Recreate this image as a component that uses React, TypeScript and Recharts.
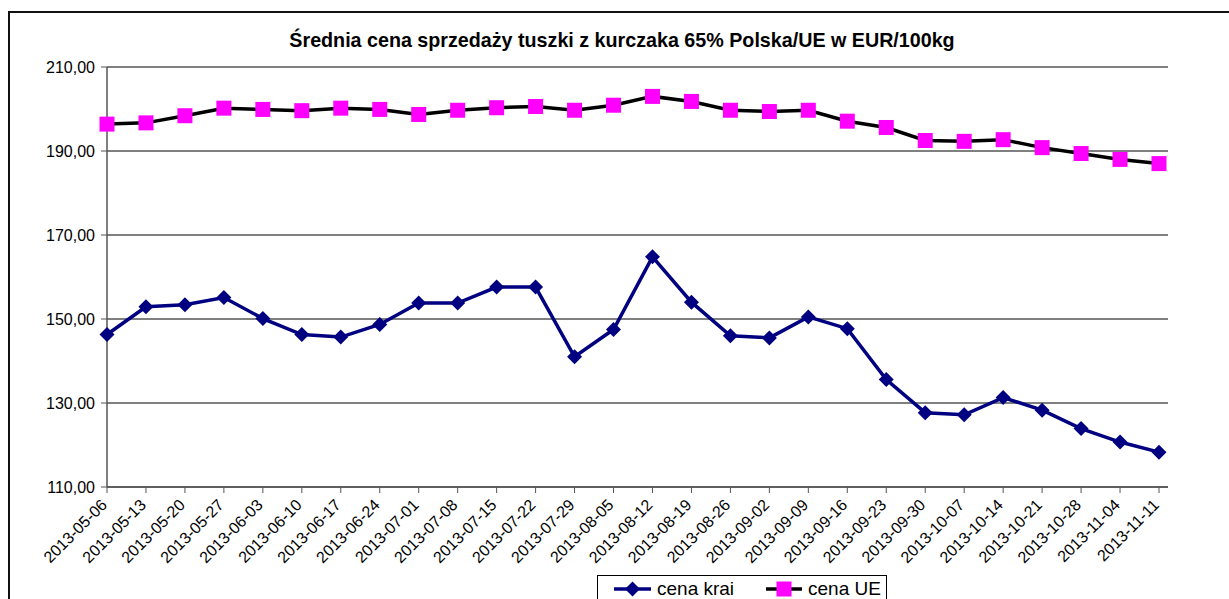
import React from "react";
import { LineChart, Line, XAxis, YAxis, CartesianGrid } from "recharts";

const dates = [
  "2013-05-06", "2013-05-13", "2013-05-20", "2013-05-27", "2013-06-03",
  "2013-06-10", "2013-06-17", "2013-06-24", "2013-07-01", "2013-07-08",
  "2013-07-15", "2013-07-22", "2013-07-29", "2013-08-05", "2013-08-12",
  "2013-08-19", "2013-08-26", "2013-09-02", "2013-09-09", "2013-09-16",
  "2013-09-23", "2013-09-30", "2013-10-07", "2013-10-14", "2013-10-21",
  "2013-10-28", "2013-11-04", "2013-11-11"
];

const cenaKraj = [
  146.3, 152.9, 153.4, 155.1, 150.1, 146.3, 145.7, 148.7, 153.8, 153.8,
  157.6, 157.6, 141.0, 147.5, 164.8, 154.0, 146.0, 145.5, 150.5, 147.7,
  135.6, 127.7, 127.2, 131.3, 128.3, 123.9, 120.7, 118.3
];

const cenaUE = [
  196.4, 196.7, 198.4, 200.2, 199.9, 199.6, 200.2, 199.9, 198.7, 199.7,
  200.3, 200.6, 199.7, 200.9, 203.0, 201.8, 199.7, 199.4, 199.7, 197.1,
  195.6, 192.5, 192.3, 192.7, 190.8, 189.4, 188.0, 187.0
];

const yTicks = [110, 130, 150, 170, 190, 210];

const data = dates.map((d, i) => ({ date: d, kraj: cenaKraj[i], ue: cenaUE[i] }));

const font = "Arial, 'Liberation Sans', sans-serif";

const fmt = (v: number) => v.toFixed(2).replace(".", ",");

const Diamond = (props: any) => {
  const { cx, cy } = props;
  if (cx == null || cy == null) return null;
  const r = 7.5;
  return (
    <polygon
      points={`${cx},${cy - r} ${cx + r},${cy} ${cx},${cy + r} ${cx - r},${cy}`}
      fill="#000080"
    />
  );
};

const Square = (props: any) => {
  const { cx, cy } = props;
  if (cx == null || cy == null) return null;
  return <rect x={cx - 7.5} y={cy - 7.5} width={15} height={15} fill="#FF00FF" />;
};

const DateTick = (props: any) => {
  const { x, y, payload } = props;
  const px = x + 1;
  const py = y + 11;
  return (
    <text
      x={px}
      y={py}
      transform={`rotate(-45, ${px}, ${py})`}
      textAnchor="end"
      fontSize={16}
      fontFamily={font}
      fill="#000"
    >
      {payload.value}
    </text>
  );
};

export default function App() {
  return (
    <div
      style={{
        position: "fixed",
        left: 0,
        top: 0,
        width: 1229,
        height: 599,
        overflow: "hidden",
        background: "#fff"
      }}
    >
      <div
        style={{
          position: "absolute",
          left: 8,
          top: 11,
          width: 1300,
          height: 700,
          border: "2px solid #111"
        }}
      />
      <div
        style={{
          position: "absolute",
          left: 0,
          top: 28,
          width: 1244,
          textAlign: "center",
          fontFamily: font,
          fontWeight: "bold",
          fontSize: 19.7,
          lineHeight: "24px",
          color: "#000"
        }}
      >
        Średnia cena sprzedaży tuszki z kurczaka 65% Polska/UE w EUR/100kg
      </div>
      <div style={{ position: "absolute", left: 0, top: 0 }}>
        <LineChart
          width={1229}
          height={640}
          data={data}
          margin={{ top: 67, right: 61, bottom: 0, left: 0 }}
        >
          <CartesianGrid vertical={false} stroke="#000" strokeWidth={1} />
          <XAxis
            dataKey="date"
            scale="point"
            padding={{ left: 0, right: 9 }}
            interval={0}
            height={153}
            tickSize={6}
            tick={<DateTick />}
            axisLine={{ stroke: "#555", strokeWidth: 1.5 }}
            tickLine={{ stroke: "#555" }}
          />
          <YAxis
            domain={[110, 210]}
            ticks={yTicks}
            width={107}
            tickSize={6}
            tickMargin={6}
            tickFormatter={fmt}
            axisLine={{ stroke: "#555", strokeWidth: 1.5 }}
            tickLine={{ stroke: "#555" }}
            tick={{ fontSize: 16, fontFamily: font, fill: "#000" }}
          />
          <Line
            dataKey="kraj"
            stroke="#000080"
            strokeWidth={3.5}
            dot={<Diamond />}
            isAnimationActive={false}
          />
          <Line
            dataKey="ue"
            stroke="#000"
            strokeWidth={3.5}
            dot={<Square />}
            isAnimationActive={false}
          />
        </LineChart>
      </div>
      <div
        style={{
          position: "absolute",
          left: 597,
          top: 575,
          width: 288,
          height: 60,
          border: "1.5px solid #000"
        }}
      >
        <svg width={288} height={30} style={{ position: "absolute", left: 0, top: 0 }}>
          <line x1={16} y1={13} x2={53} y2={13} stroke="#000080" strokeWidth={3.5} />
          <polygon points="34.5,5.5 42,13 34.5,20.5 27,13" fill="#000080" />
          <text x={59} y={19} fontSize={19} fontFamily={font} fill="#000">cena krai</text>
          <line x1={168} y1={13} x2={204} y2={13} stroke="#000" strokeWidth={3.5} />
          <rect x={178.5} y={5.5} width={15} height={15} fill="#FF00FF" />
          <text x={210} y={19} fontSize={19} fontFamily={font} fill="#000">cena UE</text>
        </svg>
      </div>
    </div>
  );
}
